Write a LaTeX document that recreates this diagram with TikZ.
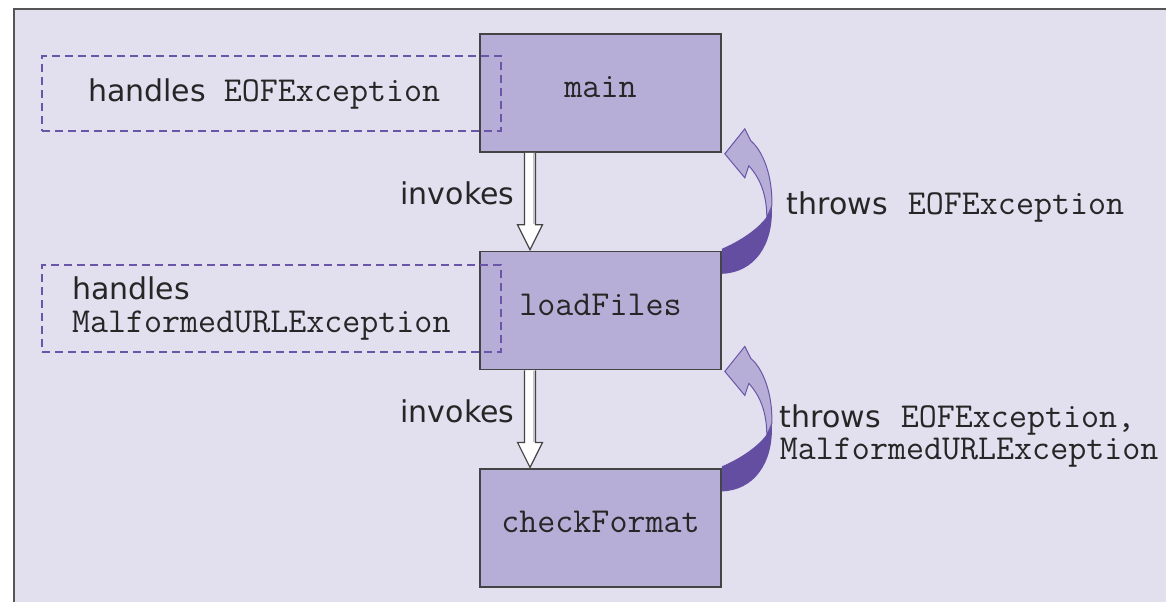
\documentclass[tikz,border=0pt]{standalone}
\usepackage{fontspec}
\setmainfont{DejaVu Sans}
\usetikzlibrary{positioning,calc}

\definecolor{panelbg}{HTML}{E2DFEE}
\definecolor{panelline}{HTML}{555555}
\definecolor{boxfill}{HTML}{B6AED6}
\definecolor{boxline}{HTML}{444444}
\definecolor{dashline}{HTML}{6A56A8}
\definecolor{throwdark}{HTML}{634EA2}
\definecolor{ink}{HTML}{262626}

% exception and method names in typewriter
\newcommand\exc[1]{{\fontsize{17.5pt}{16.5pt}\selectfont\ttfamily #1}}

\tikzset{
  method/.style={draw=boxline, fill=boxfill, line width=0.8pt,
    minimum width=120.5pt, minimum height=59pt, text height=10.5pt, text depth=6pt,
    font=\fontsize{17.5pt}{16.5pt}\selectfont\ttfamily, text=ink},
  handler/.style={draw=dashline, dash pattern=on 4pt off 2.5pt, line width=0.7pt,
    align=left, font=\fontsize{15pt}{16.5pt}\selectfont, text=ink},
  note/.style={font=\fontsize{15pt}{16pt}\selectfont, text=ink, align=left},
  invoke/.style={draw=boxline, fill=white, line width=0.6pt},
  throwup/.style={draw=dashline, fill=boxfill, line width=0.5pt},
  throwdown/.style={fill=throwdark}
}

\begin{document}
\begin{tikzpicture}[x=0.5pt, y=-0.5pt]
\useasboundingbox (0,0) rectangle (1166,602);

% panel
\fill[panelbg] (14,9) rectangle (1166,602);
\draw[panelline, line width=0.75pt] (14,602) -- (14,9) -- (1166,9);

% call chain
\node[method] (main) at (600.5,93) {main};
\node[method, below=49pt of main] (loadFiles) {loadFiles};
\node[method, below=49pt of loadFiles] (checkFormat) {checkFormat};

% handlers
\node[handler, text width=183.5pt, inner xsep=23pt, minimum height=37.5pt]
  (handleEOF) at (271.5,93.5) {handles\hspace{9pt}\exc{EOFException}};
\node[handler, text width=199.5pt, inner xsep=15pt, minimum height=43.5pt]
  (handleURL) at (271.5,308.5) {handles\\\exc{MalformedURLException}};

% invokes arrows
\foreach \a/\b in {main/loadFiles, loadFiles/checkFormat}{
  \coordinate (s) at ($(\a.south)+(-70.5,0)$);
  \coordinate (e) at ($(\b.north)+(-70.5,-1)$);
  \draw[invoke] ($(s)+(-5.5,0)$) -- ($(e)+(-5.5,-25)$) -- ($(e)+(-12.5,-25)$) -- (e)
    -- ($(e)+(12.5,-25)$) -- ($(e)+(5.5,-25)$) -- ($(s)+(5.5,0)$);
  \draw[gray!45, line width=1pt] ($(s)+(3.5,0.5)$) -- ($(e)+(3.5,-25.5)$);
  \node[note, anchor=east] (inv-\a) at ($(s)!0.5!(e)+(-8.5,-8)$) {invokes};
}

% throws arrows
\foreach \a in {loadFiles, checkFormat}{
  \begin{scope}[shift={(\a.north east)}]
    \filldraw[throwup] (50,-45) .. controls (51,-75) and (41,-100) .. (29,-110)
      -- (23,-122) -- (3,-97) -- (23,-73) -- (27,-85)
      .. controls (39,-72) and (45,-55) .. (45,-33) -- cycle;
    \fill[throwdown] (0,23) .. controls (32,22) and (52,-5) .. (50,-45)
      .. controls (48,-32) and (28,-14) .. (0,-2) -- cycle;
  \end{scope}
}

\node[note, anchor=west] (throwEOF) at ($(loadFiles.north east)+(58,-44)$)
  {throws\hspace{10pt}\exc{EOFException}};
\node[note, anchor=west] (throwBoth) at ($(checkFormat.north east)+(51,-32)$)
  {throws\hspace{10pt}\exc{EOFException,}\\\exc{MalformedURLException}};
\end{tikzpicture}
\end{document}
